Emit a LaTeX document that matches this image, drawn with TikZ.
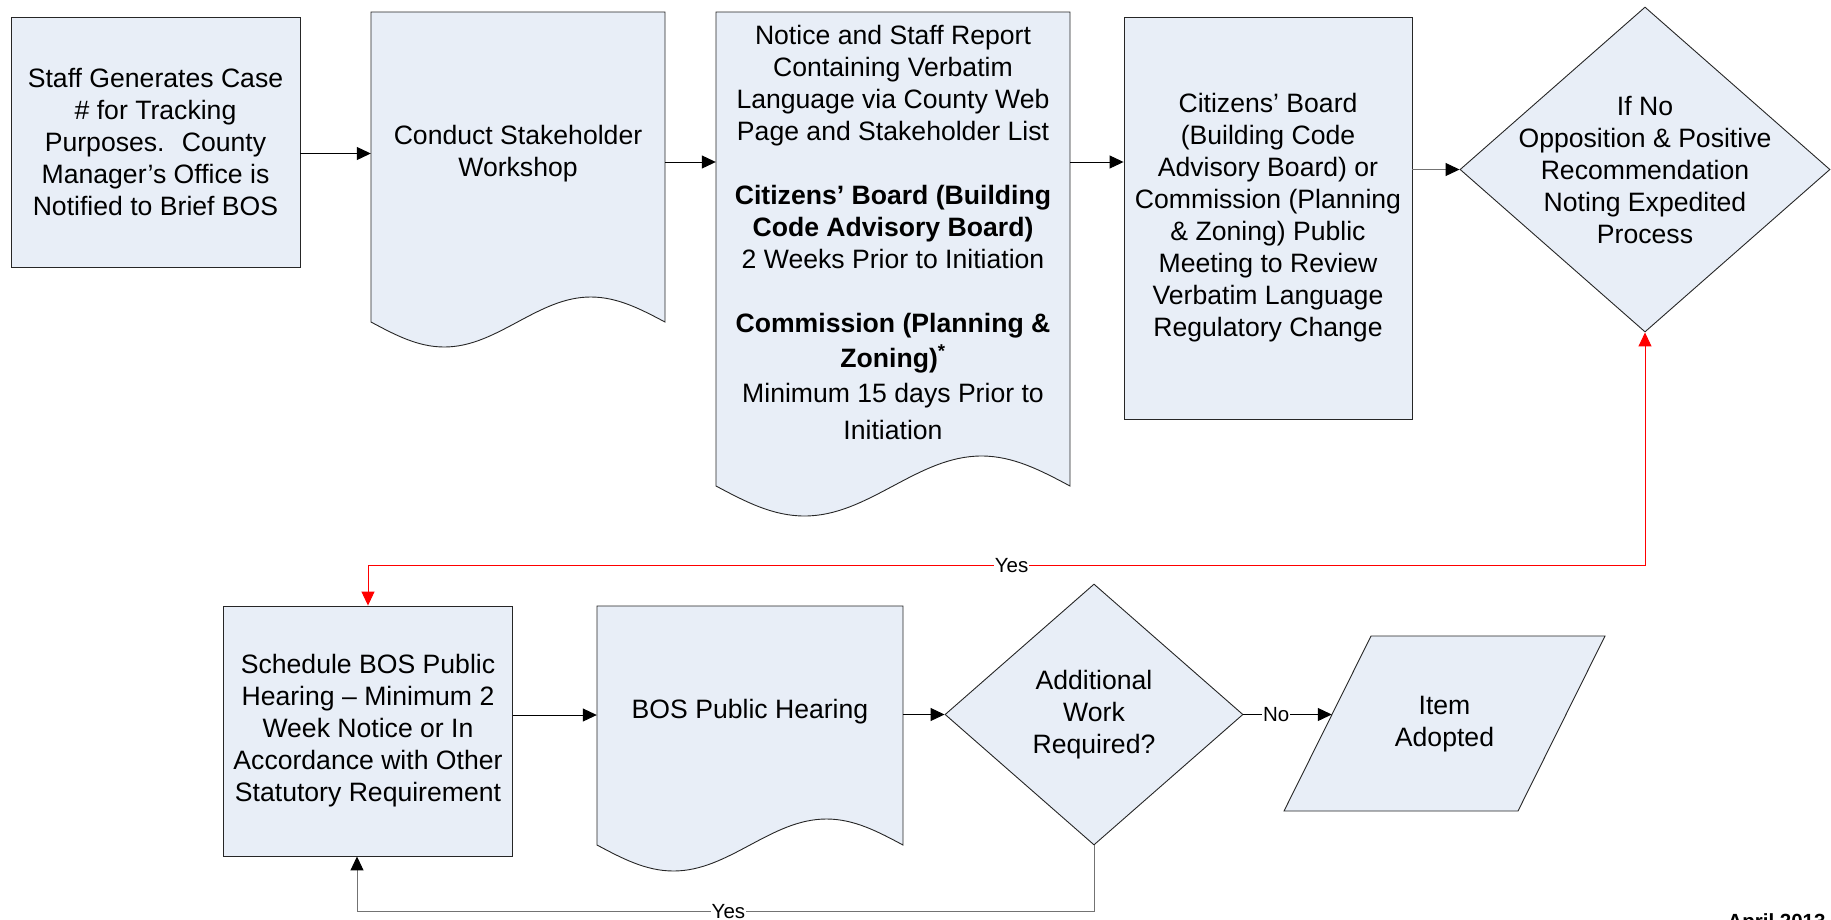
\documentclass[tikz,border=0pt]{standalone}
\usepackage{fontspec}
\setmainfont{Liberation Sans}
\usetikzlibrary{shapes.geometric, arrows.meta, positioning}
\definecolor{boxfill}{RGB}{232,238,247}

\begin{document}
\begin{tikzpicture}[x=1pt, y=-1pt,
    box/.style={draw=black!85, fill=boxfill, line width=0.9pt},
    txt/.style={align=center, font=\fontsize{26.6}{32}\selectfont},
    lbl/.style={fill=white, inner sep=1pt, font=\fontsize{20.5}{24}\selectfont},
    dia/.style={box, diamond, inner sep=0pt},
    flow/.style={line width=1pt, -{Triangle[length=14pt, width=13pt]}},
    gflow/.style={line width=1pt, draw=black!55, -{Triangle[length=14pt, width=13pt, color=black]}},
    redflow/.style={line width=1pt, draw=red, {Triangle[length=14pt, width=13pt]}-{Triangle[length=14pt, width=13pt]}}]
    \useasboundingbox (0,0) rectangle (1831,919);

    % top row
    \node[box, txt, minimum width=289pt, minimum height=250pt] (staff) at (155.5,142) {Staff Generates Case\\\# for Tracking\\Purposes.~ County\\Manager’s Office is\\Notified to Brief BOS};

    \filldraw[box] (371,12) -- (371,322) sin (444.25,347) cos (517.5,322) sin (590.75,297) cos (665,322) -- (665,12) -- cycle;
    \node[txt, minimum width=294pt] (workshop) at (518,153.5) {Conduct Stakeholder\\Workshop};

    \filldraw[box] (716,12) -- (716,486) sin (804.5,516) cos (893,486) sin (981.5,456) cos (1070,486) -- (1070,12) -- cycle;
    \node[txt, minimum width=354pt] (notice) at (893,232) {Notice and Staff Report\\Containing Verbatim\\Language via County Web\\Page and Stakeholder List\\[32pt]
        \textbf{Citizens’ Board (Building}\\\textbf{Code Advisory Board)}\\2 Weeks Prior to Initiation\\[32pt]
        \textbf{Commission (Planning \&}\\[3pt]\textbf{Zoning)\textsuperscript{*}}\\[3pt]Minimum 15 days Prior to\\[5pt]Initiation};

    \node[box, txt, minimum width=288pt, minimum height=402pt] (review) at (1268,218) {Citizens’ Board\\(Building Code\\Advisory Board) or\\Commission (Planning\\\& Zoning) Public\\Meeting to Review\\Verbatim Language\\Regulatory Change};

    \node[dia, minimum width=370pt, minimum height=325pt] (expedite) at (1645,169.5) {};
    \node[txt] (expedite-txt) at (expedite.center) {If No\\Opposition \& Positive\\Recommendation\\Noting Expedited\\Process};

    % bottom row
    \node[box, txt, minimum width=289pt, minimum height=250pt] (schedule) at (368,731) {Schedule BOS Public\\Hearing – Minimum 2\\Week Notice or In\\Accordance with Other\\Statutory Requirement};

    \filldraw[box] (597,606) -- (597,845) sin (673.5,871) cos (750,845) sin (826.5,819) cos (903,845) -- (903,606) -- cycle;
    \node[txt, minimum width=306pt] (hearing) at (750,712) {BOS Public Hearing};

    \node[dia, minimum width=298pt, minimum height=261pt] (additional) at (1094,714.5) {};
    \node[txt] (additional-txt) at (additional.center) {Additional\\Work\\Required?};

    \filldraw[box] (1371,636) -- (1605,636) -- (1518,811) -- (1284,811) -- cycle;
    \node[txt, minimum width=225pt] (adopted) at (1444.5,724) {Item\\Adopted};

    \node[anchor=base west, font=\bfseries\fontsize{20.5}{24}\selectfont] (date) at (1724,928) {April 2013};

    % connectors
    \draw[flow] (staff.east |- workshop.west) -- (workshop.west);
    \draw[flow] ([yshift=-8.5pt]workshop.east) -- ([yshift=-8.5pt]workshop.east -| notice.west);
    \draw[flow] ([yshift=70pt]notice.east) -- ([yshift=70pt]notice.east -| review.west);
    \draw[gflow] (review.east |- expedite.west) -- (expedite.west);
    \draw[redflow] (expedite.south) -- ++(0,233) -| node[lbl, pos=0.248] {Yes} (schedule.north);
    \draw[flow] ([yshift=16pt]schedule.east) -- ([yshift=16pt]schedule.east -| hearing.west);
    \draw[flow] (hearing.east |- additional.west) -- (additional.west);
    \draw[flow] (additional.east) -- node[lbl, pos=0.37] {No} (additional.east -| adopted.west);
    \draw[gflow] (additional.south) -- ++(0,66) -| node[lbl, pos=0.248] {Yes} ([xshift=-11pt]schedule.south);
\end{tikzpicture}
\end{document}
